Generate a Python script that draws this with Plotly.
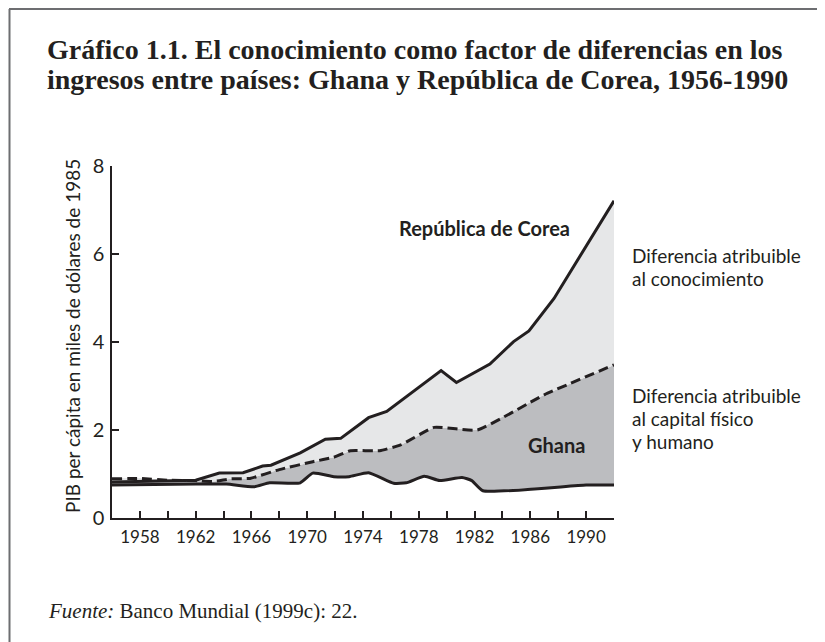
import plotly.graph_objects as go

# ---- data ----
years_korea = [1956, 1962.0, 1963.7, 1965.4, 1966.8, 1967.4, 1969.5, 1971.3, 1972.4,
               1974.4, 1975.7, 1979.6, 1980.7, 1983.1, 1984.8, 1985.9, 1987.7, 1992]
korea = [0.82, 0.86, 1.02, 1.03, 1.18, 1.20, 1.48, 1.79, 1.81,
         2.28, 2.42, 3.35, 3.08, 3.50, 4.01, 4.25, 4.99, 7.21]

years_capital = [1956, 1958, 1960, 1962, 1963.3, 1964.5, 1965.9, 1968, 1970.4, 1971.9,
                 1973.1, 1975.2, 1976.7, 1979.1, 1982.2, 1987, 1992]
capital = [0.89, 0.90, 0.86, 0.85, 0.83, 0.89, 0.90, 1.10, 1.28, 1.38,
           1.53, 1.53, 1.66, 2.06, 2.00, 2.80, 3.48]

years_ghana = [1956, 1962, 1964.2, 1966.2, 1967.3, 1969.5, 1970.4, 1971.9, 1973.0, 1974.4,
               1976.2, 1977.1, 1978.4, 1979.5, 1981.1, 1981.8, 1982.6, 1990, 1992]
ghana = [0.75, 0.77, 0.77, 0.71, 0.80, 0.80, 1.02, 0.94, 0.94, 1.03,
         0.79, 0.80, 0.95, 0.85, 0.92, 0.85, 0.62, 0.75, 0.75]

x_tickvals = list(range(1958, 1991, 2))
x_ticktext = [str(y) if (y - 1958) % 4 == 0 else "" for y in x_tickvals]
y_tickvals = [0, 2, 4, 6, 8]

title_lines = ["Gráfico 1.1. El conocimiento como factor de diferencias en los",
               "ingresos entre países: Ghana y República de Corea, 1956-1990"]
y_title = "PIB per cápita en miles de dólares de 1985"
label_korea = "República de Corea"
label_ghana = "Ghana"
label_know = ["Diferencia atribuible", "al conocimiento"]
label_cap = ["Diferencia atribuible", "al capital físico", "y humano"]
source_italic = "Fuente:"
source_rest = " Banco Mundial (1999c): 22."

# ---- layout geometry (figure pixels) ----
W, H = 825, 642
OFF = 8  # page margin offset between figure and screenshot coordinates
L, R, T, B = 104, 219, 158, 132
PW, PH = W - L - R, H - T - B

def px(x):
    return (x - OFF - L) / PW

def py(y):
    return (H - B - (y - OFF)) / PH

INK = "#231f20"
LIGHT = "#e6e7e8"
DARK = "#bcbdc0"
SANS = "Lato, 'Open Sans', sans-serif"
SERIF = "'Liberation Serif', 'DejaVu Serif', serif"

fig = go.Figure()
# fills (no lines)
fig.add_trace(go.Scatter(x=years_ghana, y=ghana, mode="lines", line=dict(width=0, color=DARK),
                         hoverinfo="skip", showlegend=False))
fig.add_trace(go.Scatter(x=years_capital, y=capital, mode="lines", line=dict(width=0, color=DARK),
                         fill="tonexty", fillcolor=DARK, hoverinfo="skip", showlegend=False))
fig.add_trace(go.Scatter(x=years_korea, y=korea, mode="lines", line=dict(width=0, color=LIGHT),
                         fill="tonexty", fillcolor=LIGHT, hoverinfo="skip", showlegend=False))
# lines
fig.add_trace(go.Scatter(x=years_ghana, y=ghana, mode="lines",
                         line=dict(width=3, color=INK, shape="spline", smoothing=0.5),
                         name="Ghana", showlegend=False))
fig.add_trace(go.Scatter(x=years_capital, y=capital, mode="lines",
                         line=dict(width=3, color=INK, dash="10px,5px", shape="spline", smoothing=0.4),
                         name="Capital", showlegend=False))
fig.add_trace(go.Scatter(x=years_korea, y=korea, mode="lines",
                         line=dict(width=3, color=INK),
                         name="República de Corea", showlegend=False))

ann = []
def text(t, x, y, size, xanchor="left", yanchor="middle", font=SANS, angle=0):
    ann.append(dict(text=t, x=px(x), y=py(y), xref="paper", yref="paper",
                    xanchor=xanchor, yanchor=yanchor, showarrow=False, textangle=angle,
                    font=dict(family=font, size=size, color=INK)))

text("<b>" + title_lines[0] + "</b>", 45, 50, 28, font=SERIF)
text("<b>" + title_lines[1] + "</b>", 45, 80, 28, font=SERIF)
text(y_title, 72, 336, 19, xanchor="center", angle=-90)
text("<b>" + label_korea + "</b>", 572, 228, 20, xanchor="right")
text("<b>" + label_ghana + "</b>", 587, 445, 20, xanchor="right")
for i, s in enumerate(label_know):
    text(s, 630, 255 + 23.3 * i, 19)
for i, s in enumerate(label_cap):
    text(s, 630, 395 + 23.3 * i, 19)
text("<i>" + source_italic + "</i>" + source_rest, 46, 611, 21, font=SERIF)

shapes = [
    dict(type="line", xref="paper", yref="paper", x0=px(9), x1=px(840), y0=py(9), y1=py(9),
         line=dict(color="#6d6e71", width=2)),
    dict(type="line", xref="paper", yref="paper", x0=px(9.5), x1=px(9.5), y0=py(9), y1=py(660),
         line=dict(color="#6d6e71", width=2)),
]

fig.update_layout(
    width=W, height=H,
    margin=dict(l=L, r=R, t=T, b=B),
    paper_bgcolor="white", plot_bgcolor="white",
    annotations=ann, shapes=shapes,
    xaxis=dict(range=[1956, 1992], tickvals=x_tickvals, ticktext=x_ticktext,
               ticks="inside", ticklen=7, tickwidth=1.5, tickcolor=INK,
               showline=True, linecolor=INK, linewidth=1.5, showgrid=False, zeroline=False,
               ticklabelstandoff=3,
               tickfont=dict(family=SANS, size=17, color=INK)),
    yaxis=dict(range=[0, 8], tickvals=y_tickvals,
               ticks="inside", ticklen=7, tickwidth=1.5, tickcolor=INK,
               showline=True, linecolor=INK, linewidth=1.5, showgrid=False, zeroline=False,
               ticklabelstandoff=2,
               tickfont=dict(family=SANS, size=20, color=INK)),
)

fig.write_html("out.html")
